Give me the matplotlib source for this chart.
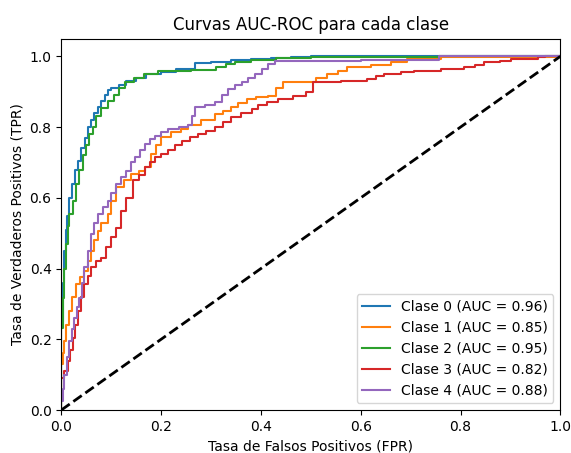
import matplotlib
matplotlib.use("Agg")
import matplotlib.pyplot as plt

labels = ["Clase 0 (AUC = 0.96)", "Clase 1 (AUC = 0.85)", "Clase 2 (AUC = 0.95)",
          "Clase 3 (AUC = 0.82)", "Clase 4 (AUC = 0.88)"]
colors = ["#1f77b4", "#ff7f0e", "#2ca02c", "#d62728", "#9467bd"]

fpr0 = [0.0, 0.0, 0.003, 0.006, 0.009, 0.012, 0.016, 0.022, 0.028, 0.033, 0.04, 0.047, 0.053, 0.06, 0.066, 0.073, 0.08, 0.087, 0.093, 0.1, 0.115, 0.13, 0.15, 0.17, 0.2, 0.23, 0.268, 0.3, 0.34, 0.38, 0.42, 0.46, 0.5, 1.0]
tpr0 = [0.0, 0.25, 0.36, 0.45, 0.51, 0.55, 0.60, 0.64, 0.68, 0.705, 0.74, 0.77, 0.80, 0.82, 0.84, 0.856, 0.875, 0.89, 0.904, 0.91, 0.92, 0.93, 0.94, 0.95, 0.955, 0.965, 0.981, 0.985, 0.99, 0.992, 0.995, 0.997, 1.0, 1.0]

fpr1 = [0.0, 0.0, 0.003, 0.006, 0.01, 0.016, 0.022, 0.03, 0.038, 0.046, 0.053, 0.06, 0.066, 0.073, 0.08, 0.093, 0.1, 0.11, 0.125, 0.14, 0.155, 0.167, 0.18, 0.19, 0.2, 0.22, 0.24, 0.254, 0.28, 0.308, 0.325, 0.341, 0.355, 0.372, 0.39, 0.414, 0.43, 0.445, 0.47, 0.489, 0.51, 0.533, 0.555, 0.573, 0.62, 0.66, 0.693, 0.76, 1.0]
tpr1 = [0.0, 0.13, 0.16, 0.195, 0.24, 0.28, 0.32, 0.356, 0.375, 0.394, 0.42, 0.45, 0.48, 0.507, 0.53, 0.554, 0.592, 0.63, 0.65, 0.667, 0.675, 0.686, 0.724, 0.75, 0.771, 0.786, 0.795, 0.805, 0.82, 0.838, 0.845, 0.856, 0.868, 0.88, 0.884, 0.889, 0.91, 0.927, 0.927, 0.927, 0.94, 0.951, 0.96, 0.97, 0.975, 0.984, 0.993, 0.997, 1.0]

fpr2 = [0.0, 0.0, 0.003, 0.006, 0.009, 0.013, 0.016, 0.023, 0.03, 0.036, 0.043, 0.05, 0.056, 0.063, 0.07, 0.08, 0.093, 0.105, 0.115, 0.127, 0.145, 0.165, 0.193, 0.22, 0.26, 0.294, 0.31, 0.33, 0.348, 0.38, 0.43, 0.5, 0.6, 0.757, 1.0]
tpr2 = [0.0, 0.233, 0.318, 0.40, 0.47, 0.52, 0.554, 0.592, 0.64, 0.68, 0.72, 0.75, 0.78, 0.80, 0.83, 0.855, 0.875, 0.89, 0.91, 0.927, 0.94, 0.95, 0.96, 0.96, 0.962, 0.962, 0.97, 0.978, 0.984, 0.99, 0.996, 0.997, 0.998, 1.0, 1.0]

fpr3 = [0.0, 0.0, 0.006, 0.013, 0.018, 0.023, 0.028, 0.033, 0.04, 0.046, 0.053, 0.06, 0.07, 0.08, 0.09, 0.1, 0.11, 0.12, 0.13, 0.143, 0.155, 0.167, 0.177, 0.187, 0.2, 0.214, 0.228, 0.241, 0.258, 0.274, 0.29, 0.308, 0.325, 0.341, 0.36, 0.382, 0.395, 0.412, 0.435, 0.465, 0.49, 0.505, 0.56, 0.613, 0.63, 0.646, 0.68, 0.706, 0.76, 0.807, 0.83, 0.847, 0.88, 0.901, 0.955, 0.97, 1.0]
tpr3 = [0.0, 0.09, 0.11, 0.139, 0.17, 0.205, 0.24, 0.28, 0.32, 0.356, 0.38, 0.403, 0.42, 0.431, 0.46, 0.488, 0.516, 0.564, 0.60, 0.649, 0.665, 0.686, 0.70, 0.715, 0.725, 0.734, 0.748, 0.762, 0.772, 0.781, 0.79, 0.80, 0.814, 0.828, 0.84, 0.852, 0.862, 0.871, 0.88, 0.889, 0.899, 0.927, 0.93, 0.937, 0.944, 0.951, 0.955, 0.96, 0.965, 0.97, 0.977, 0.984, 0.988, 0.993, 0.998, 1.0, 1.0]

fpr4 = [0.0, 0.0, 0.003, 0.006, 0.011, 0.016, 0.021, 0.026, 0.031, 0.036, 0.041, 0.046, 0.053, 0.06, 0.066, 0.073, 0.083, 0.093, 0.1, 0.11, 0.12, 0.13, 0.14, 0.147, 0.157, 0.167, 0.177, 0.187, 0.2, 0.214, 0.235, 0.254, 0.262, 0.268, 0.288, 0.308, 0.322, 0.335, 0.348, 0.362, 0.375, 0.388, 0.402, 0.415, 0.429, 0.5, 0.6, 0.757, 1.0]
tpr4 = [0.0, 0.025, 0.06, 0.10, 0.15, 0.195, 0.23, 0.261, 0.29, 0.318, 0.36, 0.403, 0.45, 0.497, 0.53, 0.554, 0.575, 0.592, 0.615, 0.639, 0.66, 0.677, 0.70, 0.715, 0.735, 0.753, 0.765, 0.776, 0.786, 0.795, 0.80, 0.805, 0.83, 0.856, 0.862, 0.871, 0.89, 0.908, 0.918, 0.927, 0.94, 0.951, 0.965, 0.979, 0.987, 0.988, 0.99, 1.0, 1.0]

fprs = [fpr0, fpr1, fpr2, fpr3, fpr4]
tprs = [tpr0, tpr1, tpr2, tpr3, tpr4]

fig = plt.figure(figsize=(5.71, 4.53), dpi=100)
ax = fig.add_axes([0.1074, 0.0949, 0.8739, 0.8197])
for f, t, c, l in zip(fprs, tprs, colors, labels):
    ax.plot(f, t, color=c, lw=1.5, label=l, drawstyle="steps-post")
ax.plot([0, 1], [0, 1], "k--", lw=2)
ax.set_xlim(0.0, 1.0)
ax.set_ylim(0.0, 1.05)
ax.set_xlabel("Tasa de Falsos Positivos (FPR)")
ax.set_ylabel("Tasa de Verdaderos Positivos (TPR)")
ax.set_title("Curvas AUC-ROC para cada clase")
ax.legend(loc="lower right")
fig.savefig("out.png", dpi=100)
